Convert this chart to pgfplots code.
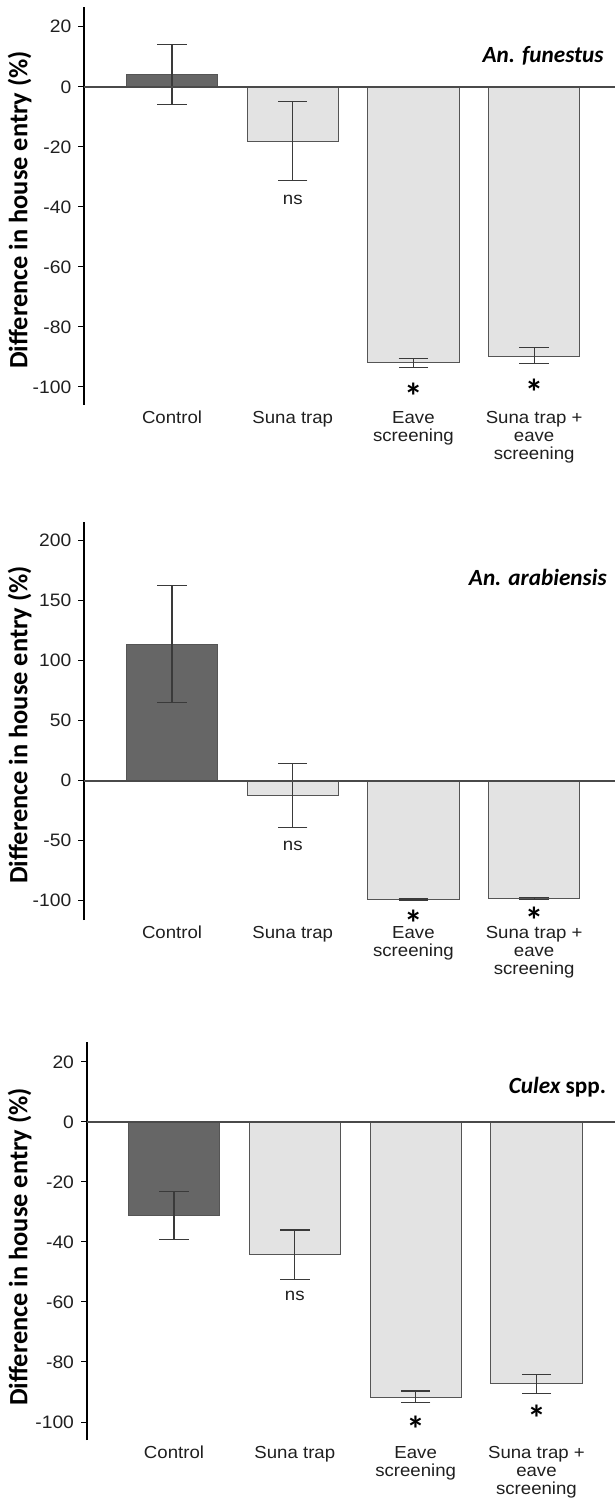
\documentclass[border=0pt]{standalone}
\usepackage{pgfplots}
\pgfplotsset{compat=1.18}
\usepackage{fontspec}
\setmainfont{Liberation Sans}[FakeStretch=1.07]
\newfontfamily\carlito{Carlito}

\definecolor{barDark}{HTML}{666666}
\definecolor{barLight}{HTML}{E3E3E3}
\definecolor{barEdge}{HTML}{555555}
\definecolor{errCol}{HTML}{3A3A3A}
\definecolor{zeroCol}{HTML}{4A4A4A}

% significance asterisk, boxed to its ink so that it centres on its point
\newcommand{\sig}{\raisebox{-0.40em}[0.31em][0pt]{*}}

\pgfplotsset{
  panel/.style={
    scale only axis,
    width=265.35pt, height=199.15pt,
    xmin=-0.727, xmax=3.67,
    axis y line*=left,
    axis x line*=bottom,
    x axis line style={draw=none},
    y axis line style={line width=1pt, black},
    xtick={0,1,2,3},
    xticklabels={Control, Suna trap, Eave\\screening, Suna trap +\\eave\\screening},
    xtick style={draw=none},
    xticklabel style={align=center, inner sep=1pt, font=\fontsize{8.7}{9.15}\selectfont, text=black!88, yshift=1.1pt},
    ytick pos=left, tick align=outside, major tick length=3pt,
    ytick style={black, line width=0.5pt},
    yticklabel style={font=\fontsize{9}{10}\selectfont, text=black!88},
    /pgf/number format/assume math mode=true,
    ylabel={Difference in house entry (\%)},
    ylabel style={font=\carlito\bfseries\fontsize{13.2}{14}\selectfont, at={(axis description cs:-0.122,0.49)}, anchor=center},
    clip=false,
  },
  bars/.style={
    ybar, bar width=45.65pt, bar shift=0pt, draw=barEdge, line width=0.5pt,
    error bars/y dir=both, error bars/y explicit,
    error bars/error bar style={errCol, line width=0.6pt},
    error bars/error mark options={rotate=90, errCol, mark size=7.35pt, line width=0.6pt},
  },
}
\tikzset{
  species/.style={anchor=east, inner sep=0pt, font=\carlito\bfseries\fontsize{11.6}{12}\selectfont},
  ns/.style={font=\fontsize{8.7}{10}\selectfont, text=black!88},
  star/.style={font=\carlito\bfseries\fontsize{18.5}{18.5}\selectfont, inner sep=0pt},
}

\begin{document}
\begin{tikzpicture}
\path[use as bounding box] (0,0) rectangle (307.5pt,-751pt);

% An. funestus
\begin{axis}[panel, at={(42.15pt,-202.5pt)}, anchor=south west,
  ymin=-106, ymax=26.7, ytick={-100,-80,...,20}]
  \addplot[bars, fill=barDark] coordinates {(0,4.0) += (0,10.0) -= (0,9.8)};
  \addplot[bars, fill=barLight] coordinates {
    (1,-18.2) += (0,13.2) -= (0,12.9)
    (2,-92.0) += (0,1.4)  -= (0,1.6)
    (3,-89.7) += (0,2.8)  -= (0,2.5)};
  \draw[zeroCol, line width=0.75pt] ({rel axis cs:0,0} |- {axis cs:0,0}) -- ({rel axis cs:1,0} |- {axis cs:0,0});
  \node[species] at (axis cs:3.579,10.2) {\itshape An. funestus};
  \node[ns] at (axis cs:1,-37.6) {ns};
  \node[star] at (axis cs:2,-100.6) {\sig};
  \node[star] at (axis cs:3,-99.4) {\sig};
\end{axis}

% An. arabiensis
\begin{axis}[panel, at={(42.15pt,-460pt)}, anchor=south west,
  ymin=-116, ymax=215.8, ytick={-100,-50,...,200}]
  \addplot[bars, fill=barDark] coordinates {(0,113.9) += (0,48.6) -= (0,48.6)};
  \addplot[bars, fill=barLight] coordinates {
    (1,-12.2) += (0,26.4) -= (0,26.7)
    (2,-98.9) += (0,0.6)  -= (0,0.5)
    (3,-98.1) += (0,0.7)  -= (0,0.6)};
  \draw[zeroCol, line width=0.75pt] ({rel axis cs:0,0} |- {axis cs:0,0}) -- ({rel axis cs:1,0} |- {axis cs:0,0});
  \node[species] at (axis cs:3.604,169.4) {\itshape An. arabiensis};
  \node[ns] at (axis cs:1,-54.4) {ns};
  \node[star] at (axis cs:2,-112.5) {\sig};
  \node[star] at (axis cs:3,-110.5) {\sig};
\end{axis}

% Culex spp.
\begin{axis}[panel, at={(43.5pt,-720pt)}, anchor=south west,
  width=264pt, xmin=-0.72, xmax=3.65,
  ylabel style={at={(axis description cs:-0.1277,0.485)}},
  ymin=-106, ymax=26.7, ytick={-100,-80,...,20}]
  \addplot[bars, fill=barDark] coordinates {(0,-31.3) += (0,8.2) -= (0,7.9)};
  \addplot[bars, fill=barLight] coordinates {
    (1,-44.2) += (0,8.2) -= (0,8.2)
    (2,-91.7) += (0,2.0) -= (0,1.9)
    (3,-87.3) += (0,3.2) -= (0,3.1)};
  \draw[zeroCol, line width=0.75pt] ({rel axis cs:0,0} |- {axis cs:0,0}) -- ({rel axis cs:1,0} |- {axis cs:0,0});
  \node[species] at (axis cs:3.579,11.4) {{\itshape Culex} spp.};
  \node[ns] at (axis cs:1,-57.9) {ns};
  \node[star] at (axis cs:2,-100) {\sig};
  \node[star] at (axis cs:3,-96.4) {\sig};
\end{axis}
\end{tikzpicture}
\end{document}
